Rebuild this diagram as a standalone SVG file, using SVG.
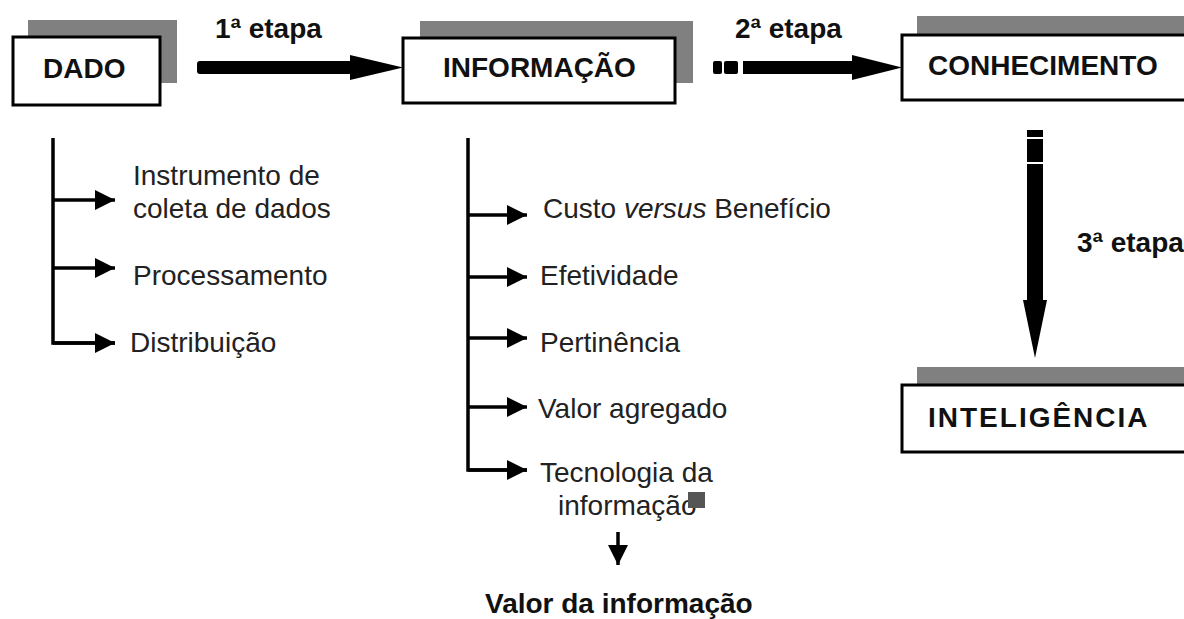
<svg xmlns="http://www.w3.org/2000/svg" width="1184" height="619" viewBox="0 0 1184 619">
<style>
.bg{fill:#ffffff}
.shadow{fill:#808080}
.box{fill:#ffffff;stroke:#000000;stroke-width:3}
.lbl{font-family:"Liberation Sans",Arial,sans-serif;font-weight:bold;font-size:28px;fill:#111111}
.txt{font-family:"Liberation Sans",Arial,sans-serif;font-size:28px;fill:#222222}
.ln{fill:none;stroke:#000000;stroke-width:3.5}
.big{fill:#000000}
</style>
<defs>
<marker id="ah" markerWidth="20" markerHeight="20" viewBox="0 0 20 20" refX="20" refY="10" orient="auto" markerUnits="userSpaceOnUse">
<path d="M0,0 L20,10 L0,20 Z" fill="#000000"/>
</marker>
</defs>
<rect class="bg" x="0" y="0" width="1184" height="619"/>

<g id="node-dado">
<rect class="shadow" x="28" y="20" width="149" height="63"/>
<rect class="box" x="13" y="37" width="147" height="68"/>
<text class="lbl" x="43" y="78">DADO</text>
</g>

<g id="node-informacao">
<rect class="shadow" x="420" y="21" width="273" height="62"/>
<rect class="box" x="403" y="38" width="272" height="65"/>
<text class="lbl" x="443" y="77">INFORMAÇÃO</text>
</g>

<g id="node-conhecimento">
<rect class="shadow" x="917" y="16" width="280" height="40"/>
<rect class="box" x="902" y="35" width="300" height="65"/>
<text class="lbl" x="928" y="75">CONHECIMENTO</text>
</g>

<g id="node-inteligencia">
<rect class="shadow" x="917" y="367" width="280" height="30"/>
<rect class="box" x="902" y="385" width="300" height="67"/>
<text class="lbl" x="928" y="427" letter-spacing="2">INTELIGÊNCIA</text>
</g>

<g id="connectors">
<!-- 1a etapa -->
<rect class="big" x="197" y="61" width="156" height="13" rx="3"/>
<path class="big" d="M350,55 L403,67.5 L350,80 Z"/>
<!-- 2a etapa -->
<rect class="big" x="713" y="61" width="9" height="13" rx="2"/>
<rect class="big" x="724" y="61" width="14" height="13" rx="2"/>
<rect class="big" x="743" y="61" width="112" height="13"/>
<path class="big" d="M852,55 L902,67.5 L852,80 Z"/>
<!-- 3a etapa -->
<rect class="big" x="1027" y="130" width="16" height="7"/>
<rect class="big" x="1027" y="139" width="16" height="23"/>
<rect class="big" x="1027" y="164" width="16" height="138"/>
<path class="big" d="M1023,300 L1035,358 L1047,300 Z"/>

<!-- DADO tree -->
<path class="ln" d="M53,138 L53,343 L115,343"/>
<path class="ln" d="M53,200 L115,200" marker-end="url(#ah)"/>
<path class="ln" d="M53,268 L115,268" marker-end="url(#ah)"/>
<path class="ln" d="M53,343 L115,343" marker-end="url(#ah)"/>

<!-- INFORMACAO tree -->
<path class="ln" d="M468,138 L468,470 L527,470"/>
<path class="ln" d="M468,215 L527,215" marker-end="url(#ah)"/>
<path class="ln" d="M468,277 L527,277" marker-end="url(#ah)"/>
<path class="ln" d="M468,338 L527,338" marker-end="url(#ah)"/>
<path class="ln" d="M468,407 L527,407" marker-end="url(#ah)"/>
<path class="ln" d="M468,470 L527,470" marker-end="url(#ah)"/>

<!-- down to Valor da informacao -->
<path class="ln" d="M618,532 L618,565" marker-end="url(#ah)"/>
</g>

<g id="labels">
<text class="lbl" x="215" y="38">1ª etapa</text>
<text class="lbl" x="735" y="38">2ª etapa</text>
<text class="lbl" x="1077" y="252">3ª etapa</text>

<text class="txt" x="133" y="185">Instrumento de</text>
<text class="txt" x="133" y="218">coleta de dados</text>
<text class="txt" x="133" y="285">Processamento</text>
<text class="txt" x="130" y="352">Distribuição</text>

<text class="txt" x="543" y="218">Custo <tspan font-style="italic">versus</tspan> Benefício</text>
<text class="txt" x="540" y="285">Efetividade</text>
<text class="txt" x="540" y="352">Pertinência</text>
<text class="txt" x="538" y="418">Valor agregado</text>
<text class="txt" x="540" y="482">Tecnologia da</text>
<text class="txt" x="558" y="515">informação</text>
<rect x="688" y="492" width="17" height="16" fill="#555555"/>

<text class="lbl" x="485" y="613">Valor da informação</text>
</g>
</svg>
